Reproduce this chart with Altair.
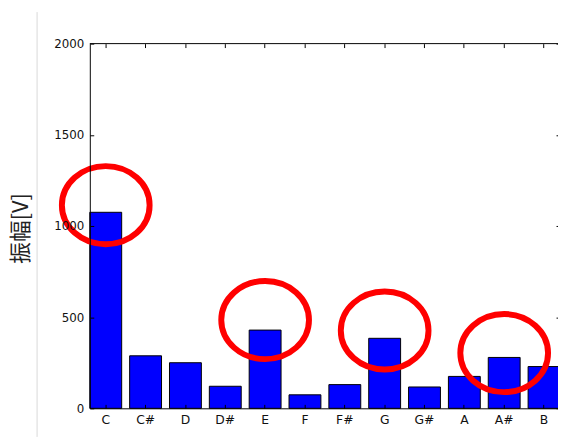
import altair as alt
import pandas as pd

notes = ["C", "C#", "D", "D#", "E", "F", "F#", "G", "G#", "A", "A#", "B"]
amplitudes = [1075, 288, 250, 121, 429, 74, 130, 384, 117, 175, 279, 229]
circled_notes = ["C", "E", "G", "A#"]
circle_centers = [1114, 484, 427, 303]
y_ticks = [0, 500, 1000, 1500, 2000]

bars_df = pd.DataFrame({"note": notes, "amp": amplitudes})
circ_df = pd.DataFrame({"note": circled_notes, "cy": circle_centers})
one_df = pd.DataFrame({"a": [0]})

W, H = 475, 370
xscale = alt.Scale(type="band", domain=notes, range=[0, 477], paddingInner=0.2, paddingOuter=0)
yscale = alt.Scale(domain=[0, 2000], nice=False)

FONT = "DejaVu Sans"

def tick_axis(orient, offset):
    return alt.Axis(orient=orient, offset=offset, tickSize=4, tickColor="black", tickWidth=1,
                    labels=False, domain=False, grid=False, title=None, zindex=2)

bars = alt.Chart(bars_df).mark_bar(color="#0000ff", stroke="black", strokeWidth=1).encode(
    x=alt.X("note:N", sort=notes, scale=xscale,
            axis=alt.Axis(orient="bottom", title=None, labelAngle=0, ticks=False, domain=True,
                          domainColor="black", domainWidth=1, labelColor="#111111", labelFont=FONT,
                          labelFontSize=12.5, labelPadding=5, grid=False, zindex=1)),
    y=alt.Y("amp:Q", scale=yscale,
            axis=alt.Axis(orient="left", values=y_ticks, format="d", title="振幅[V]", titleX=-70,
                          titleY=H / 2 + 2, titleAngle=-90, titleFont="Noto Sans CJK JP",
                          titleFontSize=22, titleFontWeight="normal", titleColor="#222222",
                          titleBaseline="middle", titleAlign="center", ticks=False, grid=False,
                          domainColor="black", domainWidth=1, labelColor="#111111", labelFont=FONT,
                          labelFontSize=12, labelPadding=6, zindex=1)),
)

ticks_lb = alt.Chart(bars_df).mark_point(opacity=0).encode(
    x=alt.X("note:N", sort=notes, scale=xscale, axis=tick_axis("bottom", -4)),
    y=alt.Y("amp:Q", scale=yscale, axis=alt.Axis(orient="left", offset=-4, tickSize=4, values=y_ticks,
                                                  tickColor="black", labels=False, domain=False,
                                                  grid=False, title=None, zindex=2)),
)

ellipse = "M-1,0A1,0.89,0,1,0,1,0A1,0.89,0,1,0,-1,0Z"
circles = alt.Chart(circ_df).mark_point(shape=ellipse, size=7921, filled=False, color="#ff0000",
                                        strokeWidth=6, opacity=1).encode(
    x=alt.X("note:N", sort=notes, scale=xscale, axis=tick_axis("top", -4)),
    y=alt.Y("cy:Q", scale=yscale, axis=alt.Axis(orient="right", offset=-2, tickSize=4, values=y_ticks,
                                                 tickColor="black", labels=False, domain=False,
                                                 grid=False, title=None, zindex=2)),
)

top_spine = alt.Chart(one_df).mark_rule(color="black", strokeWidth=1).encode(
    x=alt.value(0), x2=alt.value(477), y=alt.value(0)
)

side_line = alt.Chart(one_df).mark_rule(color="#d8d8d8", strokeWidth=1).encode(
    x=alt.value(-53.5), y=alt.value(-32), y2=alt.value(399)
)

chart = alt.layer(side_line, bars, ticks_lb, circles, top_spine).resolve_axis(
    x="independent", y="independent"
).properties(
    width=W, height=H,
    padding={"left": 83, "top": 33, "right": 0, "bottom": 29},
    autosize=alt.AutoSizeParams(type="none"),
).configure_view(stroke=None)

chart.save("out.html", embed_options={"renderer": "svg", "actions": False})
